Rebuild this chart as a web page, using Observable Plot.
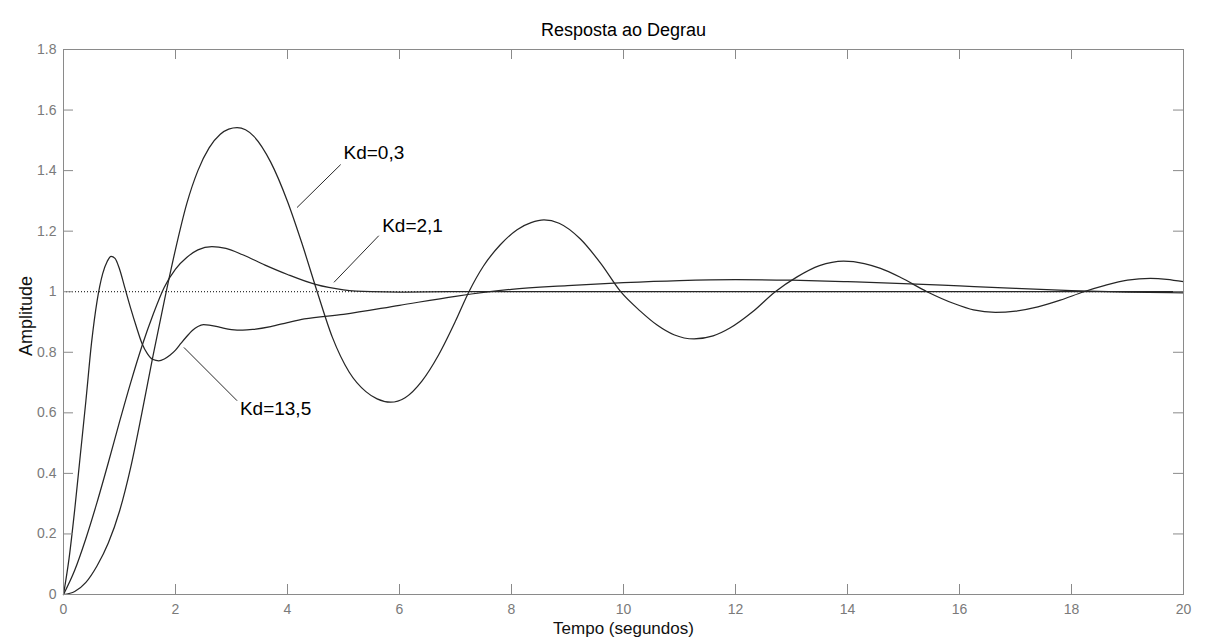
<!DOCTYPE html>
<html><head><meta charset="utf-8">
<script src="https://cdn.jsdelivr.net/npm/d3@7"></script>
<script src="https://cdn.jsdelivr.net/npm/@observablehq/plot@0.6"></script>
<style>
html,body{margin:0;padding:0;background:#fff;}
#chart{position:absolute;left:7px;top:10px;}
#chart svg{background:#f0f0f0;display:block;}
</style></head><body><div id="chart"></div>
<script>
// ---- text ----
const title = "Resposta ao Degrau";
const xLabel = "Tempo (segundos)";
const yLabel = "Amplitude";
const xTicks = [0, 2, 4, 6, 8, 10, 12, 14, 16, 18, 20];
const yTicks = [0, 0.2, 0.4, 0.6, 0.8, 1, 1.2, 1.4, 1.6, 1.8];
const yTickLabels = ["0", "0.2", "0.4", "0.6", "0.8", "1", "1.2", "1.4", "1.6", "1.8"];
const refLevel = [1];

// ---- series ----
const t_kd135 = [0,0.1,0.2,0.3,0.4,0.5,0.6,0.7,0.78,0.85,0.92,1.0,1.1,1.2,1.3,1.4,1.5,1.6,1.7,1.8,1.9,2.0,2.1,2.2,2.3,2.4,2.5,2.6,2.8,3.0,3.2,3.4,3.7,4.0,4.3,5,6,7,8,9,10,11,12,13,14,15,16,17,18,19,20];
const y_kd135 = [0,0.12,0.28,0.46,0.64,0.83,0.97,1.06,1.10,1.117,1.11,1.075,1.01,0.945,0.885,0.83,0.795,0.776,0.772,0.778,0.79,0.807,0.83,0.852,0.872,0.885,0.891,0.89,0.882,0.875,0.873,0.876,0.885,0.898,0.91,0.925,0.955,0.985,1.008,1.02,1.03,1.037,1.04,1.038,1.033,1.027,1.019,1.011,1.004,0.999,0.996];

const t_kd21 = [0,0.2,0.4,0.6,0.8,1.0,1.2,1.4,1.6,1.8,2.0,2.2,2.4,2.65,2.9,3.2,3.6,4.0,4.5,5.0,5.5,6,7,8,10,12,14,16,18,20];
const y_kd21 = [0,0.08,0.185,0.305,0.435,0.57,0.7,0.82,0.925,1.015,1.075,1.113,1.138,1.149,1.143,1.122,1.088,1.057,1.024,1.006,1.0,0.999,1.0,1.0,1.0,1.0,1.0,1.0,1.0,1.0];

const t_kd03 = [0,0.2,0.4,0.6,0.8,1.0,1.2,1.4,1.6,1.8,2.0,2.2,2.4,2.6,2.8,2.95,3.1,3.25,3.4,3.7,4.0,4.25,4.53,4.8,5.1,5.4,5.6,5.84,6.1,6.4,6.7,7.0,7.24,7.5,7.8,8.1,8.35,8.58,8.85,9.23,9.6,9.95,10.3,10.6,10.9,11.26,11.6,11.9,12.3,12.71,13.1,13.5,13.93,14.3,14.59,14.95,15.42,15.9,16.25,16.64,17.0,17.4,17.8,18.22,18.6,19.0,19.41,19.7,20];
const y_kd03 = [0,0.01,0.04,0.095,0.17,0.275,0.42,0.6,0.79,0.97,1.14,1.29,1.4,1.475,1.52,1.537,1.542,1.535,1.513,1.428,1.298,1.164,1.0,0.85,0.735,0.67,0.646,0.635,0.65,0.705,0.792,0.903,1.0,1.085,1.155,1.205,1.228,1.237,1.226,1.174,1.092,1.0,0.936,0.89,0.858,0.844,0.854,0.88,0.933,1.0,1.049,1.086,1.101,1.093,1.077,1.047,1.0,0.961,0.94,0.932,0.936,0.95,0.972,1.0,1.021,1.038,1.044,1.041,1.033];

// ---- annotations ----
const annLabels = ["Kd=0,3", "Kd=2,1", "Kd=13,5"];
const annTextT = [5.0, 5.69, 3.15];
const annTextY = [1.46, 1.216, 0.613];
const annLineT1 = [4.95, 5.63, 3.10];
const annLineY1 = [1.42, 1.185, 0.64];
const annLineT2 = [4.17, 4.83, 2.15];
const annLineY2 = [1.278, 1.031, 0.816];

// ---- build tables ----
const seriesDefs = [
  {name: "Kd=13,5", t: t_kd135, y: y_kd135},
  {name: "Kd=2,1", t: t_kd21, y: y_kd21},
  {name: "Kd=0,3", t: t_kd03, y: y_kd03}
];
const rows = seriesDefs.flatMap(s => s.t.map((t, i) => ({series: s.name, t, y: s.y[i]})));
const ann = annLabels.map((label, i) => ({
  label, tx: annTextT[i], ty: annTextY[i],
  x1: annLineT1[i], y1: annLineY1[i], x2: annLineT2[i], y2: annLineY2[i]
}));

// ---- layout ----
const W = 1198, H = 630, mL = 56, mR = 22, mT = 39, mB = 46;
const fw = W - mL - mR, fh = H - mT - mB, tickLen = 10;
const axisGray = "#8a8a8a", labelGray = "#7a7a7a";
const font = "'Liberation Sans', Arial, Helvetica, sans-serif";

const chart = Plot.plot({
  width: W, height: H,
  marginLeft: mL, marginRight: mR, marginTop: mT, marginBottom: mB,
  style: {background: "transparent", fontFamily: font, overflow: "visible"},
  x: {domain: [0, 20]},
  y: {domain: [0, 1.8]},
  marks: [
    Plot.frame({fill: "white", stroke: "none"}),
    Plot.ruleY(refLevel, {stroke: "#000", strokeWidth: 1, strokeDasharray: "1 2"}),
    Plot.line(rows, {x: "t", y: "y", z: "series", stroke: "#262626", strokeWidth: 1.25, curve: "monotone-x"}),
    Plot.link(ann, {x1: "x1", y1: "y1", x2: "x2", y2: "y2", stroke: "#111", strokeWidth: 0.9}),
    Plot.text(ann, {x: "tx", y: "ty", text: "label", textAnchor: "start", lineAnchor: "middle", fontSize: 19, fill: "#000"}),
    // inward ticks on all four sides
    Plot.ruleX(xTicks, {x: d => d, insetTop: fh - tickLen, stroke: axisGray}),
    Plot.ruleX(xTicks, {x: d => d, insetBottom: fh - tickLen, stroke: axisGray}),
    Plot.ruleY(yTicks, {y: d => d, insetRight: fw - tickLen, stroke: axisGray}),
    Plot.ruleY(yTicks, {y: d => d, insetLeft: fw - tickLen, stroke: axisGray}),
    Plot.axisX(xTicks, {anchor: "bottom", tickSize: 0, tickPadding: 10, fontSize: 14, color: labelGray, label: null}),
    Plot.axisY(yTicks, {anchor: "left", tickSize: 0, tickPadding: 7, fontSize: 14, color: labelGray, label: null,
      tickFormat: d => yTickLabels[yTicks.indexOf(d)]}),
    Plot.frame({stroke: axisGray, strokeWidth: 1}),
    Plot.text([title], {text: d => d, frameAnchor: "top", dy: -19, textAnchor: "middle", lineAnchor: "middle", fontSize: 18, fill: "#000"}),
    Plot.text([xLabel], {text: d => d, frameAnchor: "bottom", dy: 34, textAnchor: "middle", lineAnchor: "middle", fontSize: 17, fill: "#111"}),
    Plot.text([yLabel], {text: d => d, frameAnchor: "left", dx: -37, dy: -6, rotate: -90, textAnchor: "middle", lineAnchor: "middle", fontSize: 18, fill: "#111"})
  ]
});
document.getElementById("chart").appendChild(chart);
</script>
</body></html>
